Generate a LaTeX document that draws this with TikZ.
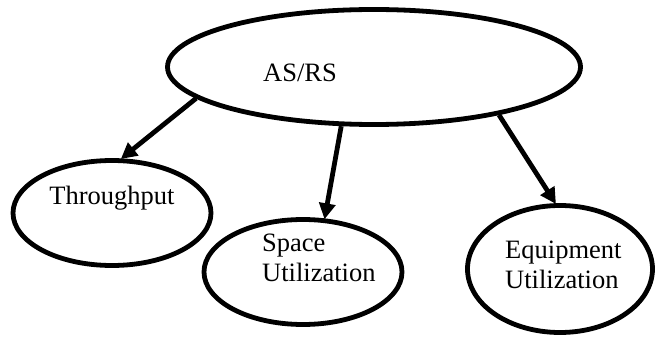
\documentclass[tikz,border=0pt]{standalone}
\usepackage{fontspec}
\setmainfont{Liberation Serif}
\usetikzlibrary{shapes.geometric,arrows.meta}
\begin{document}
\begin{tikzpicture}[x=1pt,y=-1pt,
  ell/.style={draw,ellipse,line width=4.8pt,inner sep=0pt},
  lbl/.style={inner sep=0pt,font=\fontsize{26.5}{30}\selectfont},
  arr/.style={line width=4.8pt,-{Triangle[length=16pt,width=16pt]},shorten >=-1pt}]
\useasboundingbox (0,0) rectangle (662,339);
\node[ell,minimum width=413pt,minimum height=115pt] (asrs) at (374,67) {};
\node[ell,minimum width=198pt,minimum height=105pt] (thr) at (112,213) {};
\node[ell,minimum width=198pt,minimum height=105pt] (spc) at (303,272) {};
\node[ell,minimum width=185pt,minimum height=127pt] (eqp) at (560,269) {};
\node[lbl] (tasrs) at (300,73) {AS/RS};
\node[lbl] (tthr) at (112,198) {Throughput};
\node[lbl,align=left,anchor=west] (tspc) at (262,258) {Space\\Utilization};
\node[lbl,align=left,anchor=west] (teqp) at (505,265) {Equipment\\Utilization};
\draw[arr] (asrs.190) -- (thr.80);
\draw[arr] (asrs.241) -- (spc.68);
\draw[arr] (asrs.-21) -- (eqp.94);
\end{tikzpicture}
\end{document}
